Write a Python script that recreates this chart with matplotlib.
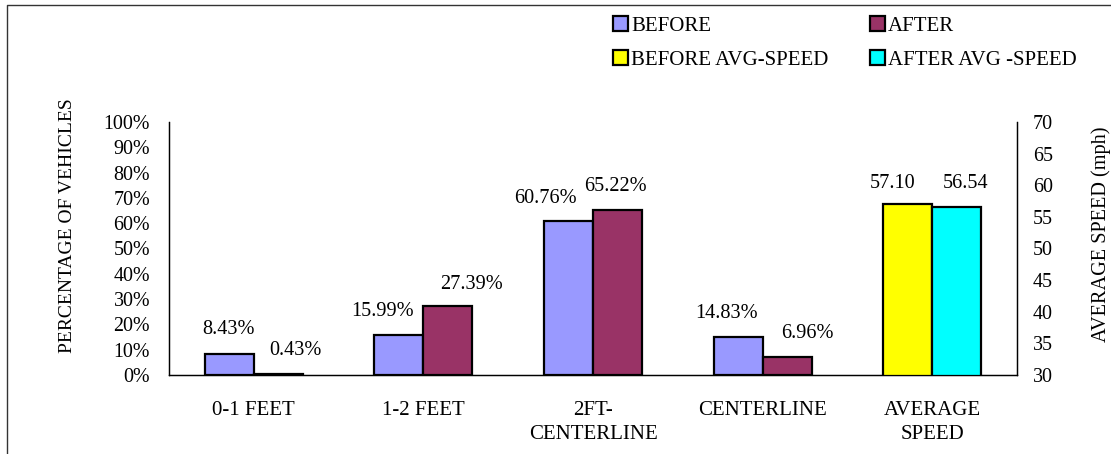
import matplotlib
matplotlib.use("Agg")
import matplotlib.pyplot as plt
from matplotlib.patches import Patch
from matplotlib.lines import Line2D
from matplotlib.ticker import FuncFormatter

plt.rcParams["font.family"] = ["Liberation Serif", "DejaVu Serif"]

# ── data ─────────────────────────────────────────────────────────────────────
categories = ["0-1 FEET", "1-2 FEET", "2FT-\nCENTERLINE", "CENTERLINE", "AVERAGE\nSPEED"]
before_pct = [8.43, 15.99, 60.76, 14.83]
after_pct = [0.43, 27.39, 65.22, 6.96]
before_speed = 57.10
after_speed = 56.54
pct_ticks = list(range(0, 101, 10))
speed_ticks = list(range(30, 71, 5))

# label nudges in pixels (dx, dy) as placed in the original
before_nudge = [(-0.5, 24), (-16, 23), (-23, 23), (-12, 23.5)]
after_nudge = [(17, 23), (24, 21), (-2, 23), (20, 24)]
speed_nudge = [(-15, 20), (9, 24)]

C_BEFORE = "#9999FF"
C_AFTER = "#993366"
C_BSPD = "#FFFF00"
C_ASPD = "#00FFFF"
W = 0.289
FS = 14.6

fig = plt.figure(figsize=(11.11, 4.54), dpi=100)
ax = fig.add_axes([169 / 1111, 1 - 375 / 454, (1017 - 169) / 1111, (375 - 122) / 454])
ax2 = ax.twinx()

# ── bars ─────────────────────────────────────────────────────────────────────
xs = list(range(len(before_pct)))
b1 = ax.bar([x - W / 2 for x in xs], before_pct, W, color=C_BEFORE, edgecolor="black", linewidth=1.6)
b2 = ax.bar([x + W / 2 for x in xs], after_pct, W, color=C_AFTER, edgecolor="black", linewidth=1.6)
xsp = len(categories) - 1
s1 = ax2.bar(xsp - W / 2, before_speed, W, color=C_BSPD, edgecolor="black", linewidth=1.6)
s2 = ax2.bar(xsp + W / 2, after_speed, W, color=C_ASPD, edgecolor="black", linewidth=1.6)

for bars, vals, nudge in [(b1, before_pct, before_nudge), (b2, after_pct, after_nudge)]:
    for r, v, (dx, dy) in zip(bars, vals, nudge):
        ax.annotate(f"{v:.2f}%", (r.get_x() + r.get_width() / 2, r.get_height()),
                    xytext=(dx, dy), textcoords="offset pixels",
                    ha="center", va="center", fontsize=FS)
for r, v, (dx, dy) in zip([s1[0], s2[0]], [before_speed, after_speed], speed_nudge):
    ax2.annotate(f"{v:.2f}", (r.get_x() + r.get_width() / 2, v),
                 xytext=(dx, dy), textcoords="offset pixels",
                 ha="center", va="center", fontsize=FS)

# ── axes ─────────────────────────────────────────────────────────────────────
ax.set_xlim(-0.5, len(categories) - 0.5)
ax.set_ylim(0, 100)
ax.set_yticks(pct_ticks)
ax.yaxis.set_major_formatter(FuncFormatter(lambda v, p: f"{v:.0f}%"))
ax2.set_ylim(30, 70)
ax2.set_yticks(speed_ticks)

ax.set_xticks(range(len(categories)))
ax.set_xticklabels(categories, fontsize=15, linespacing=1.3, va="top")
ax.tick_params(axis="x", length=0, pad=19)
ax.tick_params(axis="y", length=0, pad=13.7, labelsize=14.4)
ax2.tick_params(axis="y", length=0, pad=11.5, labelsize=14.4)

for a in (ax, ax2):
    a.spines["top"].set_visible(False)
    for s in ("left", "right", "bottom"):
        a.spines[s].set_linewidth(0.9)

ax.set_ylabel("PERCENTAGE OF VEHICLES", fontsize=14, va="center")
ax.yaxis.set_label_coords(67 / 1111, 1 - 226 / 454, transform=fig.transFigure)
ax2.set_ylabel("AVERAGE SPEED (mph)", fontsize=14.6, va="center")
ax2.yaxis.set_label_coords(1101 / 1111, 1 - 234 / 454, transform=fig.transFigure)

# ── legend ───────────────────────────────────────────────────────────────────
handles = [Patch(facecolor=C_BEFORE, edgecolor="black", linewidth=1.6),
           Patch(facecolor=C_BSPD, edgecolor="black", linewidth=1.6),
           Patch(facecolor=C_AFTER, edgecolor="black", linewidth=1.6),
           Patch(facecolor=C_ASPD, edgecolor="black", linewidth=1.6)]
labels = ["BEFORE", "BEFORE AVG-SPEED", "AFTER", "AFTER AVG -SPEED"]
fig.legend(handles, labels, ncol=2, loc="upper left",
           bbox_to_anchor=(613 / 1111, 1 - 16 / 454), frameon=False,
           fontsize=15, handlelength=0.72, handleheight=0.7,
           handletextpad=0.15, columnspacing=1.97, labelspacing=0.7,
           borderpad=0, borderaxespad=0)

# ── outer frame (top and left edges) ─────────────────────────────────────────
fig.add_artist(Line2D([7 / 1111, 7 / 1111, 1], [0, 1 - 5 / 454, 1 - 5 / 454],
                      transform=fig.transFigure, color="#333333", linewidth=1.0))

fig.savefig("out.png", dpi=100)
